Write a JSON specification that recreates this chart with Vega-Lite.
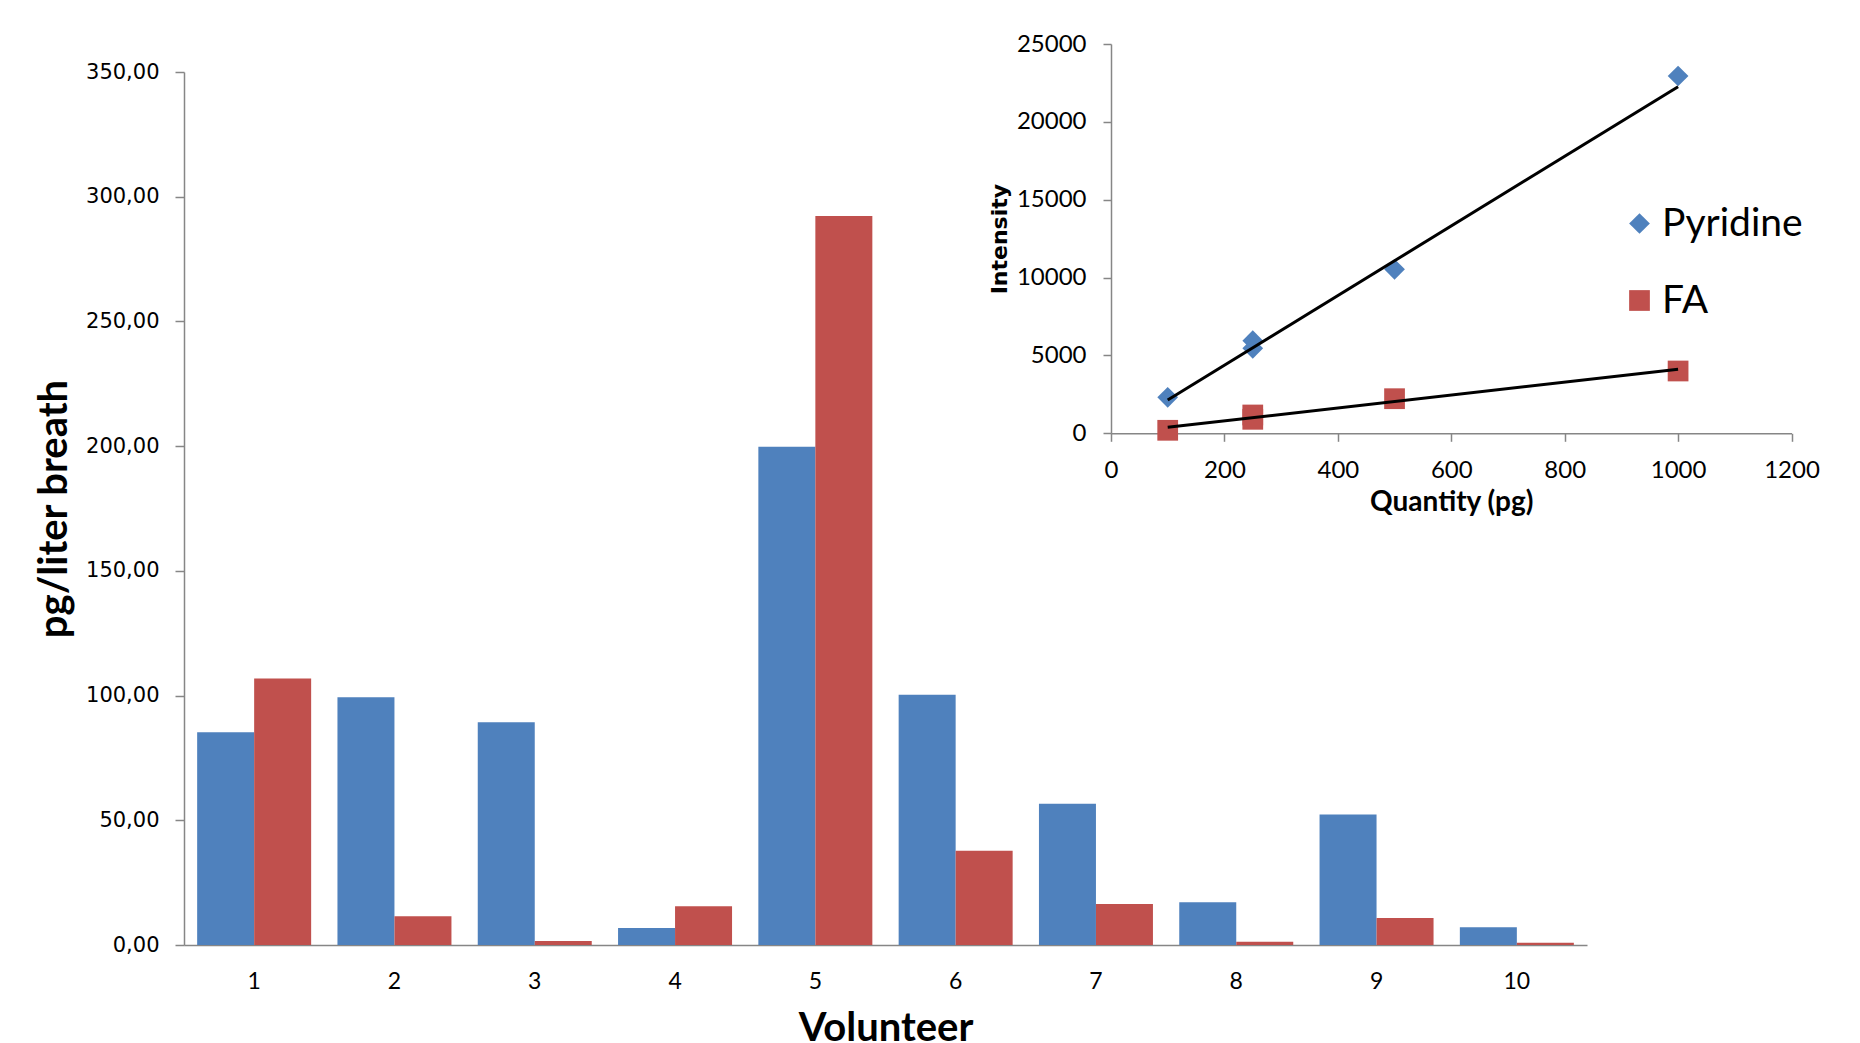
{
  "$schema": "https://vega.github.io/schema/vega-lite/v6.json",
  "width": 1403,
  "height": 873,
  "autosize": {"type": "none"},
  "padding": {"left": 184, "top": 72, "right": 273, "bottom": 98},
  "background": "white",
  "config": {
    "view": {"stroke": null},
    "locale": {"number": {"decimal": ",", "thousands": ".", "grouping": [3], "currency": ["", "€"]}},
    "axis": {"domainColor": "#868686", "tickColor": "#868686", "grid": false, "domainWidth": 1.5, "tickWidth": 1.5, "labelColor": "black", "titleColor": "black", "labelFlush": false},
    "legend": {
      "orient": "none", "legendX": 1436, "legendY": 132, "title": null, "padding": 0,
      "labelFont": "Lato", "labelFontSize": 39, "labelColor": "black",
      "symbolSize": 430, "labelOffset": 3, "rowPadding": 37, "symbolStrokeWidth": 0
    }
  },
  "datasets": {
    "bars": [
      {"volunteer": 1, "compound": "Pyridine", "value": 85.3},
      {"volunteer": 1, "compound": "FA", "value": 106.8},
      {"volunteer": 2, "compound": "Pyridine", "value": 99.3},
      {"volunteer": 2, "compound": "FA", "value": 11.5},
      {"volunteer": 3, "compound": "Pyridine", "value": 89.3},
      {"volunteer": 3, "compound": "FA", "value": 1.6},
      {"volunteer": 4, "compound": "Pyridine", "value": 6.8},
      {"volunteer": 4, "compound": "FA", "value": 15.5},
      {"volunteer": 5, "compound": "Pyridine", "value": 199.8},
      {"volunteer": 5, "compound": "FA", "value": 292.3},
      {"volunteer": 6, "compound": "Pyridine", "value": 100.3},
      {"volunteer": 6, "compound": "FA", "value": 37.8},
      {"volunteer": 7, "compound": "Pyridine", "value": 56.6},
      {"volunteer": 7, "compound": "FA", "value": 16.4},
      {"volunteer": 8, "compound": "Pyridine", "value": 17.1},
      {"volunteer": 8, "compound": "FA", "value": 1.3},
      {"volunteer": 9, "compound": "Pyridine", "value": 52.3},
      {"volunteer": 9, "compound": "FA", "value": 10.8},
      {"volunteer": 10, "compound": "Pyridine", "value": 7.1},
      {"volunteer": 10, "compound": "FA", "value": 0.9}
    ],
    "calib": [
      {"compound": "Pyridine", "quantity": 100, "intensity": 2312},
      {"compound": "Pyridine", "quantity": 250, "intensity": 5946},
      {"compound": "Pyridine", "quantity": 250, "intensity": 5458},
      {"compound": "Pyridine", "quantity": 500, "intensity": 10530},
      {"compound": "Pyridine", "quantity": 1000, "intensity": 22945},
      {"compound": "FA", "quantity": 100, "intensity": 193},
      {"compound": "FA", "quantity": 250, "intensity": 1176},
      {"compound": "FA", "quantity": 250, "intensity": 899},
      {"compound": "FA", "quantity": 500, "intensity": 2222},
      {"compound": "FA", "quantity": 1000, "intensity": 4001}
    ],
    "trend": [
      {"compound": "Pyridine", "quantity": 100, "intensity": 2138},
      {"compound": "Pyridine", "quantity": 1000, "intensity": 22258},
      {"compound": "FA", "quantity": 100, "intensity": 385},
      {"compound": "FA", "quantity": 1000, "intensity": 4120}
    ]
  },
  "layer": [
    {
      "data": {"name": "bars"},
      "mark": {"type": "bar"},
      "encoding": {
        "x": {
          "field": "volunteer", "type": "ordinal",
          "scale": {"paddingInner": 0.1875, "paddingOuter": 0.09375},
          "axis": {
            "title": "Volunteer", "labelAngle": 0, "ticks": false, "tickSize": 0,
            "labelFont": "Lato", "labelFontSize": 23, "labelPadding": 25,
            "titleFont": "Lato", "titleFontSize": 40, "titleFontWeight": "bold", "titlePadding": 15
          }
        },
        "xOffset": {"field": "compound", "type": "nominal", "sort": ["Pyridine", "FA"]},
        "y": {
          "field": "value", "type": "quantitative",
          "scale": {"domain": [0, 350]},
          "axis": {
            "title": "pg/liter breath", "format": ".2f",
            "values": [0, 50, 100, 150, 200, 250, 300, 350],
            "tickSize": 9, "labelFont": "DejaVu Sans", "labelFontSize": 21, "labelPadding": 16,
            "titleFont": "Lato", "titleFontSize": 40, "titleFontWeight": "bold", "titlePadding": 11
          }
        },
        "color": {
          "field": "compound", "type": "nominal",
          "scale": {"domain": ["Pyridine", "FA"], "range": ["#4F81BD", "#C0504D"]}
        }
      }
    },
    {
      "layer": [
        {
          "data": {"name": "calib"},
          "mark": {"type": "point", "filled": true, "size": 430, "opacity": 1},
          "encoding": {
            "x": {
              "field": "quantity", "type": "quantitative",
              "scale": {"domain": [0, 1200], "range": [927, 1607.5], "nice": false},
              "axis": {
                "orient": "bottom", "offset": -511.7, "title": "Quantity (pg)",
                "values": [0, 200, 400, 600, 800, 1000, 1200], "format": "d",
                "tickSize": 8, "labelFont": "Lato", "labelFontSize": 24, "labelPadding": 17,
                "titleFont": "Lato", "titleFontSize": 28, "titleFontWeight": "bold", "titlePadding": 6
              }
            },
            "y": {
              "field": "intensity", "type": "quantitative",
              "scale": {"domain": [0, 25000], "range": [361.3, -28], "nice": false},
              "axis": {
                "orient": "left", "offset": -927, "title": "Intensity",
                "values": [0, 5000, 10000, 15000, 20000, 25000], "format": "d",
                "tickSize": 8, "labelFont": "Lato", "labelFontSize": 24, "labelPadding": 17,
                "titleFont": "DejaVu Sans", "titleFontSize": 22, "titleFontWeight": "bold", "titlePadding": 5
              }
            },
            "color": {"field": "compound", "type": "nominal"},
            "shape": {
              "field": "compound", "type": "nominal",
              "scale": {"domain": ["Pyridine", "FA"], "range": ["diamond", "square"]}
            }
          }
        },
        {
          "data": {"name": "trend"},
          "mark": {"type": "line", "color": "black", "strokeWidth": 3},
          "encoding": {
            "x": {"field": "quantity", "type": "quantitative"},
            "y": {"field": "intensity", "type": "quantitative"},
            "detail": {"field": "compound", "type": "nominal"}
          }
        }
      ]
    }
  ],
  "resolve": {"scale": {"x": "independent", "y": "independent"}}
}
